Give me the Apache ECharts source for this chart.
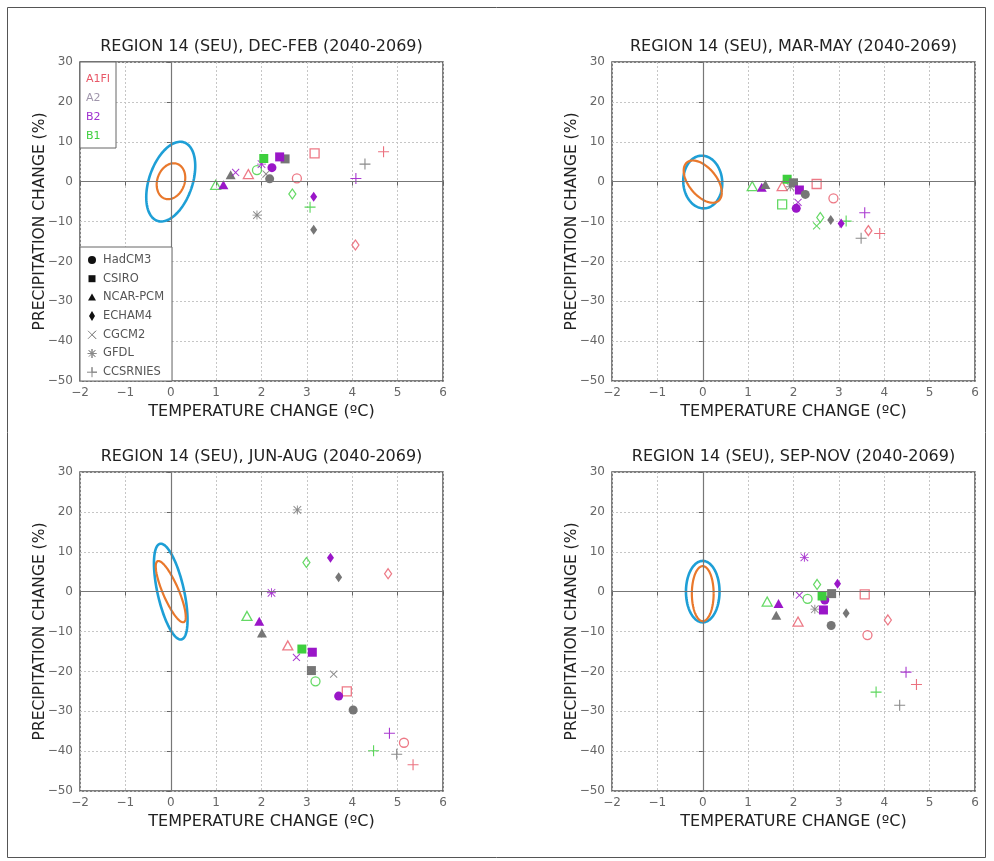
<!DOCTYPE html>
<html><head><meta charset="utf-8">
<script src="https://cdn.jsdelivr.net/npm/echarts@6/dist/echarts.min.js"></script>
<style>html,body{margin:0;padding:0;background:#fff}#c{width:994px;height:861px}</style>
</head><body><div id="c"></div>
<script>
// ---------------- DATA ----------------
const scenarios = ['A1FI', 'A2', 'B2', 'B1'];
const models = ['HadCM3', 'CSIRO', 'NCAR-PCM', 'ECHAM4', 'CGCM2', 'GFDL', 'CCSRNIES'];
const xTicks = [-2, -1, 0, 1, 2, 3, 4, 5, 6];
const yTicks = [-50, -40, -30, -20, -10, 0, 10, 20, 30];
const panelTitles = [
  'REGION 14 (SEU), DEC-FEB (2040-2069)',
  'REGION 14 (SEU), MAR-MAY (2040-2069)',
  'REGION 14 (SEU), JUN-AUG (2040-2069)',
  'REGION 14 (SEU), SEP-NOV (2040-2069)'
];
const xAxisTitle = 'TEMPERATURE CHANGE (\u00baC)';
const yAxisTitle = 'PRECIPITATION CHANGE (%)';

// [temperature change °C, precipitation change %, scenario, model, hollow(1) / filled(0)]
const djfPoints = [
  [0.99, -0.8, 'B1', 'NCAR-PCM', 1],
  [1.16, -0.8, 'B2', 'NCAR-PCM', 0],
  [1.32, 1.7, 'A2', 'NCAR-PCM', 0],
  [1.43, 2.3, 'B2', 'CGCM2', 0],
  [1.71, 1.9, 'A1FI', 'NCAR-PCM', 1],
  [1.90, 2.9, 'B1', 'HadCM3', 1],
  [2.00, 4.4, 'B2', 'GFDL', 0],
  [2.10, 1.9, 'A2', 'CGCM2', 0],
  [2.05, 5.8, 'B1', 'CSIRO', 0],
  [2.23, 3.5, 'B2', 'HadCM3', 0],
  [2.18, 0.7, 'A2', 'HadCM3', 0],
  [2.52, 5.7, 'A2', 'CSIRO', 0],
  [2.40, 6.2, 'B2', 'CSIRO', 0],
  [2.78, 0.8, 'A1FI', 'HadCM3', 1],
  [2.68, -3.1, 'B1', 'ECHAM4', 1],
  [3.17, 7.1, 'A1FI', 'CSIRO', 1],
  [3.15, -3.8, 'B2', 'ECHAM4', 0],
  [3.07, -6.4, 'B1', 'CCSRNIES', 0],
  [1.90, -8.4, 'A2', 'GFDL', 0],
  [3.15, -12.1, 'A2', 'ECHAM4', 0],
  [4.08, 0.8, 'B2', 'CCSRNIES', 0],
  [4.28, 4.4, 'A2', 'CCSRNIES', 0],
  [4.69, 7.5, 'A1FI', 'CCSRNIES', 0],
  [4.07, -15.9, 'A1FI', 'ECHAM4', 1]
];
const mamPoints = [
  [1.09, -1.1, 'B1', 'NCAR-PCM', 1],
  [1.30, -1.4, 'B2', 'NCAR-PCM', 0],
  [1.38, -0.7, 'A2', 'NCAR-PCM', 0],
  [1.75, -1.1, 'A1FI', 'NCAR-PCM', 1],
  [1.93, -1.3, 'A2', 'GFDL', 0],
  [1.86, 0.6, 'B1', 'CSIRO', 0],
  [2.00, -0.3, 'A2', 'CSIRO', 0],
  [2.13, -2.1, 'B2', 'CSIRO', 0],
  [2.26, -3.2, 'A2', 'HadCM3', 0],
  [2.51, -0.6, 'A1FI', 'CSIRO', 1],
  [1.75, -5.7, 'B1', 'CSIRO', 1],
  [2.10, -5.2, 'B2', 'CGCM2', 0],
  [2.06, -6.7, 'B2', 'HadCM3', 0],
  [2.88, -4.2, 'A1FI', 'HadCM3', 1],
  [2.59, -9.0, 'B1', 'ECHAM4', 1],
  [2.51, -11.1, 'B1', 'CGCM2', 0],
  [2.82, -9.6, 'A2', 'ECHAM4', 0],
  [3.16, -9.9, 'B1', 'CCSRNIES', 0],
  [3.05, -10.5, 'B2', 'ECHAM4', 0],
  [3.57, -7.8, 'B2', 'CCSRNIES', 0],
  [3.65, -12.3, 'A1FI', 'ECHAM4', 1],
  [3.90, -13.0, 'A1FI', 'CCSRNIES', 0],
  [3.49, -14.2, 'A2', 'CCSRNIES', 0]
];
const jjaPoints = [
  [2.79, 20.5, 'A2', 'GFDL', 0],
  [2.99, 7.3, 'B1', 'ECHAM4', 1],
  [3.52, 8.5, 'B2', 'ECHAM4', 0],
  [3.70, 3.6, 'A2', 'ECHAM4', 0],
  [4.79, 4.5, 'A1FI', 'ECHAM4', 1],
  [2.22, -0.3, 'B2', 'GFDL', 0],
  [1.68, -6.1, 'B1', 'NCAR-PCM', 1],
  [1.95, -7.4, 'B2', 'NCAR-PCM', 0],
  [2.01, -10.4, 'A2', 'NCAR-PCM', 0],
  [2.58, -13.5, 'A1FI', 'NCAR-PCM', 1],
  [2.89, -14.4, 'B1', 'CSIRO', 0],
  [3.12, -15.2, 'B2', 'CSIRO', 0],
  [2.77, -16.5, 'B2', 'CGCM2', 0],
  [3.10, -19.8, 'A2', 'CSIRO', 0],
  [3.59, -20.7, 'A2', 'CGCM2', 0],
  [3.19, -22.5, 'B1', 'HadCM3', 1],
  [3.88, -25.0, 'A1FI', 'CSIRO', 1],
  [3.70, -26.2, 'B2', 'HadCM3', 0],
  [4.02, -29.7, 'A2', 'HadCM3', 0],
  [4.82, -35.5, 'B2', 'CCSRNIES', 0],
  [5.14, -37.9, 'A1FI', 'HadCM3', 1],
  [4.47, -39.9, 'B1', 'CCSRNIES', 0],
  [4.98, -40.8, 'A2', 'CCSRNIES', 0],
  [5.34, -43.4, 'A1FI', 'CCSRNIES', 0]
];
const sonPoints = [
  [2.24, 8.6, 'B2', 'GFDL', 0],
  [2.52, 1.8, 'B1', 'ECHAM4', 1],
  [2.97, 2.0, 'B2', 'ECHAM4', 0],
  [2.13, -0.9, 'B2', 'CGCM2', 0],
  [2.31, -1.8, 'B1', 'HadCM3', 1],
  [2.69, -2.1, 'B2', 'HadCM3', 0],
  [2.63, -1.1, 'B1', 'CSIRO', 0],
  [2.84, -0.5, 'A2', 'CSIRO', 0],
  [3.57, -0.7, 'A1FI', 'CSIRO', 1],
  [1.42, -2.5, 'B1', 'NCAR-PCM', 1],
  [1.67, -3.0, 'B2', 'NCAR-PCM', 0],
  [1.62, -5.9, 'A2', 'NCAR-PCM', 0],
  [2.47, -4.4, 'A2', 'GFDL', 0],
  [2.66, -4.6, 'B2', 'CSIRO', 0],
  [3.16, -5.4, 'A2', 'ECHAM4', 0],
  [2.10, -7.5, 'A1FI', 'NCAR-PCM', 1],
  [2.83, -8.5, 'A2', 'HadCM3', 0],
  [4.08, -7.1, 'A1FI', 'ECHAM4', 1],
  [3.63, -10.9, 'A1FI', 'HadCM3', 1],
  [4.48, -20.2, 'B2', 'CCSRNIES', 0],
  [4.71, -23.3, 'A1FI', 'CCSRNIES', 0],
  [3.82, -25.2, 'B1', 'CCSRNIES', 0],
  [4.34, -28.5, 'A2', 'CCSRNIES', 0]
];

// natural-variability ellipses: [centreT, centreP, halfWidthT, Pamp_sin, Pamp_cos]  (outer, inner)
const djfEllipses = [[0.0, 0.0, 0.54, 9.2, 3.9], [0.005, 0.1, 0.315, 4.42, 0.86]];
const mamEllipses = [[0.0, -0.1, 0.43, 6.6, -0.3], [0.0, 0.0, 0.42, 4.52, -2.76]];
const jjaEllipses = [[0.0, 0.0, 0.37, 9.7, -7.1], [0.0, 0.0, 0.33, 4.4, -6.3]];
const sonEllipses = [[0.0, 0.0, 0.37, 7.7, 0.0], [0.0, -0.5, 0.24, 6.9, 0.0]];

// ---------------- STYLE ----------------
const FONT = 'DejaVu Sans';
const scenarioColor = { 'A1FI': '#e85868', 'A2': '#767676', 'B2': '#9a16c8', 'B1': '#3ecf3e' };
const scenarioTextColor = { 'A1FI': '#e85868', 'A2': '#a096ac', 'B2': '#a030d0', 'B1': '#3ecf3e' };
const PLUS = 'path://M9,0h2v9h9v2h-9v9h-2v-9h-9v-2h9z';
const STAR = 'path://M9,0h2v20h-2z M0,9h20v2h-20z M2.3,0.9L19.1,17.7L17.7,19.1L0.9,2.3z M17.7,0.9L19.1,2.3L2.3,19.1L0.9,17.7z';
const modelSymbol = {
  'HadCM3': { symbol: 'circle', size: 9, rot: 0 },
  'CSIRO': { symbol: 'rect', size: 9, rot: 0 },
  'NCAR-PCM': { symbol: 'triangle', size: [10, 9], rot: 0 },
  'ECHAM4': { symbol: 'diamond', size: [7, 10], rot: 0 },
  'CGCM2': { symbol: PLUS, size: 10, rot: 45 },
  'GFDL': { symbol: STAR, size: 9, rot: 0 },
  'CCSRNIES': { symbol: PLUS, size: 11, rot: 0 }
};
const ellipseColor = ['#1e9fd6', '#e9782c'];
const ellipseWidth = [2.6, 2.2];

const grids = [
  { left: 80, top: 62, width: 363, height: 319 },
  { left: 612, top: 62, width: 363, height: 319 },
  { left: 80, top: 472, width: 363, height: 319 },
  { left: 612, top: 472, width: 363, height: 319 }
];
const panels = [
  { pts: djfPoints, ell: djfEllipses },
  { pts: mamPoints, ell: mamEllipses },
  { pts: jjaPoints, ell: jjaEllipses },
  { pts: sonPoints, ell: sonEllipses }
];

const fmt = v => (v < 0 ? '\u2212' + Math.abs(v) : String(v));

const xAxes = [], yAxes = [], series = [];
grids.forEach((g, i) => {
  xAxes.push({
    type: 'value', gridIndex: i, min: xTicks[0], max: xTicks[xTicks.length - 1], interval: 1,
    axisLine: { show: false },
    axisTick: { show: true, length: 4, lineStyle: { color: '#666' } },
    axisLabel: { margin: 6, color: '#666', fontSize: 12, fontFamily: FONT, formatter: fmt },
    splitLine: { show: true, lineStyle: { color: '#c6c6c6', type: [2, 2], width: 1 } }
  });
  yAxes.push({
    type: 'value', gridIndex: i, min: yTicks[0], max: yTicks[yTicks.length - 1], interval: 10,
    axisLine: { show: false },
    axisTick: { show: true, length: 4, lineStyle: { color: '#666' } },
    axisLabel: { margin: 7, color: '#666', fontSize: 12, fontFamily: FONT, formatter: fmt },
    splitLine: { show: true, lineStyle: { color: '#c6c6c6', type: [2, 2], width: 1 } }
  });
  const p = panels[i];
  series.push({
    type: 'custom', xAxisIndex: i, yAxisIndex: i, silent: true,
    dimensions: ['cx', 'cy', 'a', 'b', 'c'], encode: { x: 0, y: 1 },
    data: p.ell,
    renderItem: (params, api) => {
      const cx = api.value(0), cy = api.value(1), a = api.value(2), b = api.value(3), c = api.value(4);
      const pts = [];
      for (let k = 0; k <= 120; k++) {
        const t = 2 * Math.PI * k / 120;
        pts.push(api.coord([cx + a * Math.cos(t), cy + b * Math.sin(t) + c * Math.cos(t)]));
      }
      return { type: 'polyline', shape: { points: pts },
        style: { stroke: ellipseColor[params.dataIndex], lineWidth: ellipseWidth[params.dataIndex], fill: null } };
    },
    markLine: {
      silent: true, symbol: ['none', 'none'], label: { show: false },
      lineStyle: { color: '#777', type: 'solid', width: 1.2 },
      data: [{ xAxis: 0 }, { yAxis: 0 }]
    },
    z: 2
  });
  series.push({
    type: 'scatter', xAxisIndex: i, yAxisIndex: i, silent: true, z: 3,
    data: p.pts.map(r => {
      const m = modelSymbol[r[3]], col = scenarioColor[r[2]];
      const hollow = r[4] === 1 && m.symbol.indexOf('path://') !== 0;
      return {
        value: [r[0], r[1]], symbol: m.symbol, symbolSize: m.size, symbolRotate: m.rot,
        itemStyle: hollow ? { color: 'rgba(255,255,255,0)', borderColor: col, borderWidth: 1.3 }
                          : { color: col, borderWidth: 0, opacity: m.symbol.indexOf('path://') === 0 ? 0.85 : 1 }
      };
    })
  });
});

// ---------------- TEXT / LEGENDS ----------------
const graphics = [];
graphics.push({ type: 'rect', z: 100, shape: { x: 7.5, y: 7.5, width: 978, height: 850 }, style: { stroke: '#555', fill: null, lineWidth: 1 }, silent: true });
grids.forEach((g, i) => {
  const cx = g.left + g.width / 2, cy = g.top + g.height / 2;
  graphics.push({ type: 'text', z: 100, x: cx, y: g.top - 15, silent: true,
    style: { text: panelTitles[i], align: 'center', verticalAlign: 'middle', font: '16px "' + FONT + '"', fill: '#222' } });
  graphics.push({ type: 'text', z: 100, x: cx, y: g.top + g.height + 31, silent: true,
    style: { text: xAxisTitle, align: 'center', verticalAlign: 'middle', font: '16px "' + FONT + '"', fill: '#222' } });
  graphics.push({ type: 'text', z: 100, x: g.left - 40, y: cy, rotation: Math.PI / 2, silent: true,
    style: { text: yAxisTitle, align: 'center', verticalAlign: 'middle', font: '15.5px "' + FONT + '"', fill: '#222' } });
});
// scenario legend (panel 1, upper left)
graphics.push({ type: 'rect', z: 100, shape: { x: 80, y: 62, width: 36, height: 86 }, style: { stroke: '#666', fill: '#fff', lineWidth: 1 }, silent: true });
scenarios.forEach((s, k) => {
  graphics.push({ type: 'text', z: 101, x: 86, y: 79 + k * 19, silent: true,
    style: { text: s, align: 'left', verticalAlign: 'middle', font: '11px "' + FONT + '"', fill: scenarioTextColor[s] } });
});
// model legend (panel 1, lower left)
graphics.push({ type: 'rect', z: 100, shape: { x: 80, y: 247, width: 92, height: 134 }, style: { stroke: '#666', fill: '#fff', lineWidth: 1 }, silent: true });
models.forEach((m, k) => {
  const y = 260 + k * 18.7, x = 92;
  const blk = '#111', gr = '#888';
  let shp;
  if (m === 'HadCM3') shp = { type: 'circle', shape: { cx: x, cy: y, r: 4 }, style: { fill: blk } };
  else if (m === 'CSIRO') shp = { type: 'rect', shape: { x: x - 3.5, y: y - 3.5, width: 7, height: 7 }, style: { fill: blk } };
  else if (m === 'NCAR-PCM') shp = { type: 'polygon', shape: { points: [[x, y - 4], [x + 4, y + 3], [x - 4, y + 3]] }, style: { fill: blk } };
  else if (m === 'ECHAM4') shp = { type: 'polygon', shape: { points: [[x, y - 5], [x + 3, y], [x, y + 5], [x - 3, y]] }, style: { fill: blk } };
  else if (m === 'CGCM2') shp = { type: 'polyline', shape: { points: [[x - 4, y - 4], [x + 4, y + 4], [x, y], [x + 4, y - 4], [x - 4, y + 4]] }, style: { stroke: gr, lineWidth: 1, fill: null } };
  else if (m === 'GFDL') shp = { type: 'polyline', shape: { points: [[x - 4.5, y], [x + 4.5, y], [x, y], [x, y - 4.5], [x, y + 4.5], [x, y], [x - 3.2, y - 3.2], [x + 3.2, y + 3.2], [x, y], [x + 3.2, y - 3.2], [x - 3.2, y + 3.2]] }, style: { stroke: gr, lineWidth: 1, fill: null } };
  else shp = { type: 'polyline', shape: { points: [[x - 5, y], [x + 5, y], [x, y], [x, y - 5], [x, y + 5]] }, style: { stroke: gr, lineWidth: 1, fill: null } };
  shp.silent = true;
  shp.z = 101;
  graphics.push(shp);
  graphics.push({ type: 'text', z: 101, x: 103, y: y, silent: true,
    style: { text: m, align: 'left', verticalAlign: 'middle', font: '11.5px "' + FONT + '"', fill: '#555' } });
});

const chart = echarts.init(document.getElementById('c'), null, { renderer: 'canvas' });
chart.setOption({
  backgroundColor: '#fff',
  animation: false,
  grid: grids.map(g => Object.assign({ show: true, borderColor: '#555', borderWidth: 1.5, backgroundColor: 'rgba(0,0,0,0)' }, g)),
  xAxis: xAxes,
  yAxis: yAxes,
  series: series,
  graphic: { elements: graphics }
});
</script></body></html>
